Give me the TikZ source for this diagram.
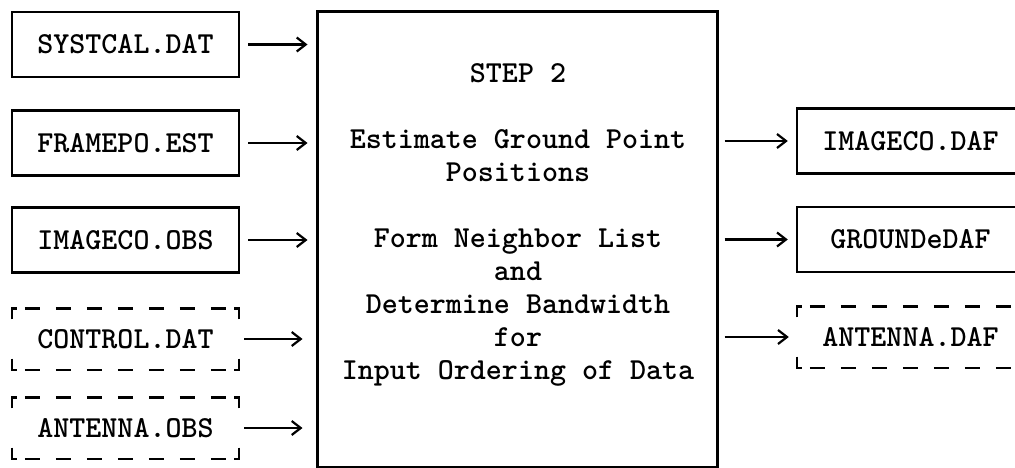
\documentclass[tikz,border=0pt]{standalone}
\usepackage{fontspec}
\usetikzlibrary{arrows.meta}
\tikzset{
  tt/.style={font=\ttfamily\bfseries\fontsize{30.5}{33}\selectfont},
  filebox/.style={tt, draw, line width=2.4pt, minimum width=227pt, minimum height=65pt, inner sep=0pt},
  dashbox/.style={tt, minimum width=227pt, minimum height=61pt, inner sep=0pt},
  dashline/.style={line width=2.4pt, dash pattern=on 15pt off 16pt},
  corner/.style={line width=2.4pt},
  flow/.style={line width=2.2pt, -{Straight Barb[length=9pt,width=14pt,line width=2.2pt]}},
  stepbox/.style={draw, line width=3pt, minimum width=400pt, minimum height=455pt, inner sep=0pt}
}
\begin{document}
\begin{tikzpicture}[x=1pt,y=-1pt]
\useasboundingbox (0,0) rectangle (1015,468);
\clip (0,0) rectangle (1015,468);
% inputs
\node[filebox] (sys) at (125.5,44.5) {SYSTCAL.DAT};
\node[filebox] (fra) at (125.5,143) {FRAMEPO.EST};
\node[filebox] (imo) at (125.5,240) {IMAGECO.OBS};
\node[dashbox] (ctl) at (125.5,339) {CONTROL.DAT};
\node[dashbox] (ano) at (125.5,428) {ANTENNA.OBS};
% step box
\node[stepbox] (step) at (517,239.5) {};
\node[tt, align=center] (steptxt) at (518,225) {STEP 2\\[33pt]Estimate Ground Point\\Positions\\[33pt]Form Neighbor List\\and\\Determine Bandwidth\\for\\Input Ordering of Data};
% outputs
\node[filebox] (imd) at (910.5,141) {IMAGECO.DAF};
\node[filebox] (grd) at (910.5,239.5) {GROUNDeDAF};
\node[dashbox] (and) at (910.5,337) {ANTENNA.DAF};
% dashed boxes
\foreach \n in {ctl,ano,and} {
  \draw[corner] (\n.north west) ++(0,11) -- (\n.north west) -- ++(5,0);
  \draw[corner] (\n.south west) ++(0,-11) -- (\n.south west) -- ++(5,0);
  \draw[corner] (\n.north east) ++(0,11) -- (\n.north east) -- ++(-5,0);
  \draw[corner] (\n.south east) ++(0,-11) -- (\n.south east) -- ++(-5,0);
  \draw[dashline] ([xshift=13pt]\n.north west) -- ([xshift=-13pt]\n.north east);
  \draw[dashline] ([xshift=13pt]\n.south west) -- ([xshift=-13pt]\n.south east);
}
% connectors
\foreach \n in {sys,fra,imo} {
  \draw[flow, shorten <=8pt, shorten >=8pt] (\n.east) -- (\n.east -| step.west);
}
\foreach \n in {ctl,ano} {
  \draw[flow, shorten <=5pt, shorten >=13pt] (\n.east) -- (\n.east -| step.west);
}
\foreach \n in {imd,grd,and} {
  \draw[flow, shorten <=6pt, shorten >=8pt] (\n.west -| step.east) -- (\n.west);
}
\end{tikzpicture}
\end{document}
